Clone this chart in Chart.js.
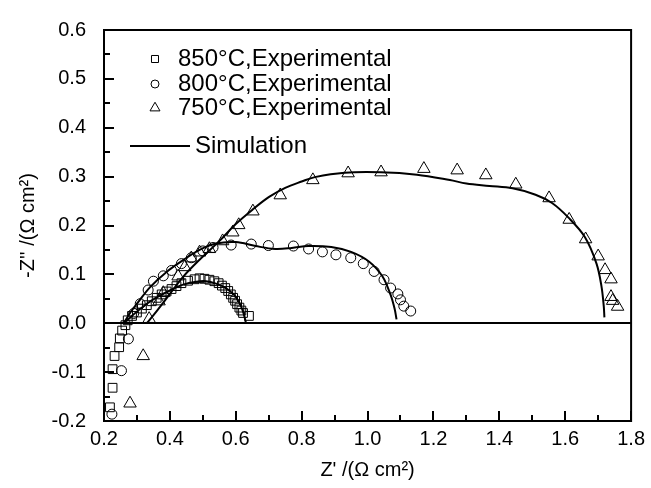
<!DOCTYPE html>
<html>
<head>
<meta charset="utf-8">
<script src="https://cdn.jsdelivr.net/npm/chart.js@4/dist/chart.umd.min.js"></script>
<style>
  html, body { margin: 0; padding: 0; background: #fff; }
  #wrap { width: 651px; height: 488px; }
</style>
</head>
<body>
<div id="wrap"><canvas id="nyquist" width="651" height="488"></canvas></div>
<script>
// Legend labels
const seriesLabels = ['850\u00B0C,Experimental', '800\u00B0C,Experimental', '750\u00B0C,Experimental'];
const simLabel = 'Simulation';

// 850 °C measured impedance: Z' and -Z'' (Ω cm²)
const x850 = [0.218, 0.226, 0.226, 0.232, 0.246, 0.248, 0.255, 0.265, 0.272, 0.285, 0.300, 0.315, 0.330, 0.345,
              0.360, 0.375, 0.390, 0.405, 0.420, 0.435, 0.455, 0.475, 0.490, 0.505, 0.520, 0.535, 0.548, 0.558,
              0.568, 0.577, 0.585, 0.592, 0.598, 0.604, 0.611, 0.617, 0.622, 0.640];
const y850 = [-0.172, -0.132, -0.094, -0.067, -0.049, -0.031, -0.015, -0.004, 0.006, 0.015, 0.022, 0.030, 0.037, 0.045,
              0.052, 0.059, 0.065, 0.070, 0.076, 0.082, 0.087, 0.090, 0.092, 0.091, 0.089, 0.086, 0.082, 0.077,
              0.072, 0.066, 0.059, 0.052, 0.046, 0.039, 0.032, 0.026, 0.021, 0.015];

// 800 °C measured impedance
const x800 = [0.224, 0.253, 0.274, 0.290, 0.310, 0.334, 0.350, 0.380, 0.405, 0.435, 0.465, 0.500, 0.531, 0.586,
              0.647, 0.699, 0.775, 0.821, 0.863, 0.904, 0.949, 0.987, 1.020, 1.050, 1.070, 1.092, 1.100, 1.110, 1.131];
const y800 = [-0.186, -0.097, -0.032, 0.020, 0.040, 0.068, 0.086, 0.097, 0.108, 0.122, 0.134, 0.148, 0.155, 0.160,
              0.162, 0.159, 0.158, 0.152, 0.146, 0.140, 0.134, 0.122, 0.106, 0.089, 0.072, 0.060, 0.048, 0.035, 0.025];

// 750 °C measured impedance
const x750 = [0.279, 0.319, 0.337, 0.367, 0.380, 0.425, 0.445, 0.465, 0.490, 0.520, 0.560, 0.591, 0.609, 0.652,
              0.735, 0.834, 0.941, 1.041, 1.171, 1.272, 1.359, 1.450, 1.551, 1.612, 1.662, 1.700, 1.721, 1.739,
              1.739, 1.744, 1.759];
const y750 = [-0.164, -0.067, 0.009, 0.045, 0.062, 0.096, 0.115, 0.133, 0.145, 0.152, 0.168, 0.186, 0.201, 0.229,
              0.262, 0.293, 0.307, 0.309, 0.316, 0.313, 0.303, 0.284, 0.256, 0.212, 0.172, 0.137, 0.109, 0.090,
              0.054, 0.046, 0.034];

// Equivalent-circuit simulation curves
const simX850 = [0.260, 0.280, 0.300, 0.330, 0.360, 0.400, 0.440, 0.480, 0.510, 0.540, 0.570, 0.595, 0.610, 0.620, 0.627, 0.631];
const simY850 = [0.000, 0.012, 0.024, 0.040, 0.053, 0.067, 0.079, 0.085, 0.086, 0.081, 0.072, 0.058, 0.043, 0.028, 0.012, 0.000];

const simX800 = [0.260, 0.280, 0.300, 0.340, 0.390, 0.440, 0.490, 0.540, 0.600, 0.660, 0.720, 0.770, 0.820, 0.890,
                 0.950, 1.005, 1.045, 1.070, 1.082, 1.088];
const simY800 = [0.000, 0.022, 0.040, 0.074, 0.105, 0.129, 0.150, 0.163, 0.166, 0.158, 0.152, 0.154, 0.158, 0.156,
                 0.146, 0.126, 0.096, 0.058, 0.030, 0.008];

const simX750 = [0.330, 0.360, 0.400, 0.440, 0.490, 0.550, 0.600, 0.650, 0.700, 0.750, 0.800, 0.840, 0.930, 1.040,
                 1.150, 1.250, 1.300, 1.370, 1.440, 1.510, 1.560, 1.610, 1.660, 1.695, 1.710, 1.717, 1.719];
const simY750 = [0.000, 0.025, 0.060, 0.095, 0.130, 0.168, 0.203, 0.232, 0.258, 0.277, 0.290, 0.299, 0.308, 0.309,
                 0.304, 0.293, 0.286, 0.281, 0.276, 0.263, 0.246, 0.216, 0.176, 0.122, 0.076, 0.035, 0.012];

const FONT = "'Liberation Sans', Arial, Helvetica, sans-serif";
const TICK_FONT = 20;
const TITLE_FONT = 20;
const LEGEND_FONT = 24;

const pts = (xs, ys) => xs.map((x, i) => ({ x: x, y: ys[i] }));
const fmt = v => (Math.abs(v) < 1e-9 ? '0.0' : v.toFixed(1));

const markerSet = (label, xs, ys, style, r) => ({
  label: label, data: pts(xs, ys), showLine: false,
  pointStyle: style, pointRadius: r, pointBorderWidth: 1,
  pointBorderColor: '#000', pointBackgroundColor: 'rgba(0,0,0,0)', order: 2
});
const simSet = (xs, ys) => ({
  label: simLabel, data: pts(xs, ys), showLine: true, pointRadius: 0,
  borderColor: '#000', borderWidth: 2, tension: 0.35, fill: false, order: 1
});

// Box frame with inward major/minor ticks on the bottom and left edges
const framePlugin = {
  id: 'frame',
  afterDraw(chart) {
    const { ctx, chartArea: a, scales: { x, y } } = chart;
    ctx.save();
    ctx.strokeStyle = '#000';
    ctx.lineWidth = 2;
    ctx.strokeRect(a.left, a.top, a.right - a.left, a.bottom - a.top);
    ctx.beginPath();
    for (let i = 0; i <= 16; i++) {
      const v = x.min + i * 0.1;
      const px = Math.round(x.getPixelForValue(v));
      const len = i % 2 === 0 ? 10 : 6;
      ctx.moveTo(px, a.bottom);
      ctx.lineTo(px, a.bottom - len);
    }
    for (let i = 0; i <= 16; i++) {
      const v = y.min + i * 0.05;
      const py = Math.round(y.getPixelForValue(v));
      const len = i % 2 === 0 ? 10 : 6;
      ctx.moveTo(a.left, py);
      ctx.lineTo(a.left + len, py);
    }
    ctx.stroke();
    ctx.restore();
  }
};

// Legend drawn inside the plot area, upper left
const insetLegend = {
  id: 'insetLegend',
  afterDraw(chart) {
    const { ctx, chartArea: a } = chart;
    ctx.save();
    ctx.font = LEGEND_FONT + 'px ' + FONT;
    ctx.textBaseline = 'middle';
    const rows = [a.top + 29, a.top + 54, a.top + 78, a.top + 116];
    chart.data.datasets.slice(0, 3).forEach((ds, i) => {
      ctx.strokeStyle = '#000';
      ctx.fillStyle = '#fff';
      ctx.lineWidth = 1;
      Chart.helpers.drawPoint(ctx, {
        pointStyle: ds.pointStyle, radius: ds.pointRadius * 0.8, rotation: 0, borderWidth: 1
      }, a.left + 51, rows[i]);
      ctx.fillStyle = '#000';
      ctx.fillText(ds.label, a.left + 74, rows[i]);
    });
    ctx.strokeStyle = '#000';
    ctx.lineWidth = 2;
    ctx.beginPath();
    ctx.moveTo(a.left + 26, rows[3]);
    ctx.lineTo(a.left + 86, rows[3]);
    ctx.stroke();
    ctx.fillStyle = '#000';
    ctx.fillText(simLabel, a.left + 91, rows[3]);
    ctx.restore();
  }
};

Chart.defaults.font.family = FONT;
Chart.defaults.color = '#000';

new Chart(document.getElementById('nyquist'), {
  type: 'scatter',
  data: {
    datasets: [
      markerSet(seriesLabels[0], x850, y850, 'rect', 6.2),
      markerSet(seriesLabels[1], x800, y800, 'circle', 5),
      markerSet(seriesLabels[2], x750, y750, 'triangle', 7.2),
      simSet(simX850, simY850),
      simSet(simX800, simY800),
      simSet(simX750, simY750)
    ]
  },
  options: {
    responsive: false,
    animation: false,
    devicePixelRatio: 1,
    layout: { padding: { top: 22, right: 18, left: 0, bottom: 0 } },
    plugins: { legend: { display: false }, tooltip: { enabled: false } },
    scales: {
      x: {
        type: 'linear', min: 0.2, max: 1.8,
        ticks: { stepSize: 0.2, callback: fmt, font: { size: TICK_FONT }, padding: 6, maxRotation: 0, autoSkip: false },
        grid: { display: false, drawTicks: false },
        border: { display: false },
        title: { display: true, text: "Z' /(\u03A9 cm\u00B2)", font: { size: TITLE_FONT }, padding: { top: 2, bottom: 6 } },
        afterFit(s) { s.height = 67; }
      },
      y: {
        type: 'linear', min: -0.2, max: 0.6,
        ticks: { stepSize: 0.1, callback: fmt, font: { size: TICK_FONT }, padding: 18 },
        grid: {
          drawTicks: false, lineWidth: 2,
          color: c => (c.tick && Math.abs(c.tick.value) < 1e-9 ? '#000' : 'rgba(0,0,0,0)')
        },
        border: { display: false },
        title: { display: true, text: "-Z'' /(\u03A9 cm\u00B2)", font: { size: TITLE_FONT }, padding: { top: 16, bottom: 0 } },
        afterFit(s) { s.width = 104; }
      }
    }
  },
  plugins: [framePlugin, insetLegend]
});
</script>
</body>
</html>
